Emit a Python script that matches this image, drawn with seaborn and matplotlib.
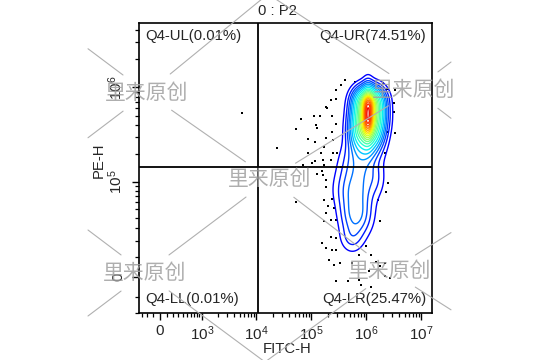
import numpy as np
import matplotlib
matplotlib.use('Agg')
import matplotlib.pyplot as plt
from matplotlib.lines import Line2D
import seaborn as sns

# axis scale: asinh "biex" display, units roughly in decades
cx, cy = 179.0, 10100.0
def fx(v):
    return np.arcsinh(np.asarray(v, float) / (2 * cx)) / np.log(10)
def fy(v):
    return np.arcsinh(np.asarray(v, float) / (2 * cy)) / np.log(10)

title = '0 : P2'
x_label, y_label = 'FITC-H', 'PE-H'
quad_labels = ['Q4-UL(0.01%)', 'Q4-UR(74.51%)', 'Q4-LL(0.01%)', 'Q4-LR(25.47%)']
gate_x, gate_y = 1.1e4, 1.45e5
x_major = [0, 1e3, 1e4, 1e5, 1e6, 1e7]
x_major_lab = ['0', '$10^3$', '$10^4$', '$10^5$', '$10^6$', '$10^7$']
y_major = [0, 1e5, 1e6]
y_major_lab = ['0', '$10^5$', '$10^6$']
x_minor = [-300, -200, -100, 100, 200, 300, 400, 500, 600, 700, 800, 900,
           2e3, 3e3, 4e3, 5e3, 6e3, 7e3, 8e3, 9e3,
           2e4, 3e4, 4e4, 5e4, 6e4, 7e4, 8e4, 9e4,
           2e5, 3e5, 4e5, 5e5, 6e5, 7e5, 8e5, 9e5,
           2e6, 3e6, 4e6, 5e6, 6e6, 7e6, 8e6, 9e6]
y_minor = [-2e4, -1e4, 1e4, 2e4, 3e4, 4e4, 5e4, 6e4, 7e4, 8e4, 9e4,
           2e5, 3e5, 4e5, 5e5, 6e5, 7e5, 8e5, 9e5, 2e6, 3e6, 4e6]
x_lim = (-0.38, 4.945)
y_lim = (-0.379, 2.674)

# population density components (display units): upper blob, peak ridge, neck, lower tail
pop_x = [3.727, 3.873, 3.691, 3.891, 3.655, 3.855, 3.782, 3.727,
         3.636, 3.545, 3.564, 3.491, 3.909]
pop_y = [1.863, 1.863, 1.705, 1.705, 1.526, 1.526, 1.705, 1.358,
         1.179, 0.916, 0.653, 0.411, 1.021]
pop_sx = [0.127, 0.127, 0.127, 0.127, 0.127, 0.127, 0.060, 0.164,
          0.200, 0.200, 0.164, 0.127, 0.109]
pop_sy = [0.084, 0.084, 0.116, 0.116, 0.105, 0.105, 0.150, 0.095,
          0.137, 0.137, 0.137, 0.095, 0.105]
pop_w = [0.60, 0.60, 0.85, 0.85, 0.60, 0.60, 1.10, 0.22,
         0.17, 0.18, 0.21, 0.07, 0.04]
levels_rel = [0.010, 0.025, 0.045, 0.070, 0.100, 0.140, 0.190, 0.250, 0.310, 0.370,
              0.430, 0.490, 0.550, 0.610, 0.670, 0.730, 0.790, 0.850, 0.910, 0.970]

# outlying events (display units)
dot_x = [1.484, 3.363, 3.553, 3.205, 3.300, 3.110, 3.205, 3.015, 3.034, 2.794,
         2.908, 2.572, 2.465, 2.844, 2.857, 3.123, 3.205, 3.123, 2.686, 2.813,
         3.015, 3.142, 2.984, 2.130, 2.686, 2.920, 3.142, 3.224, 3.110, 2.825,
         2.971, 2.604, 2.762, 2.984, 2.952, 2.857, 2.971, 3.015, 3.015, 2.477,
         2.984, 3.123, 3.047, 3.015, 3.110, 3.173, 3.205, 2.984, 2.952, 3.110,
         3.205, 3.015, 3.123, 3.205, 3.079, 3.173, 3.268, 3.838, 3.933, 4.091,
         3.996, 3.806, 3.616, 3.426, 3.205, 3.648, 3.838, 4.091, 4.186, 4.059,
         4.122, 4.280, 4.249, 4.249, 4.280, 4.154, 4.091, 4.154, 4.110, 3.964,
         3.996, 3.743, 3.616, 3.490, 3.300]
dot_y = [1.722, 2.072, 2.054, 1.967, 2.019, 1.862, 1.869, 1.792, 1.774, 1.694,
         1.694, 1.659, 1.554, 1.599, 1.564, 1.694, 1.610, 1.529, 1.449, 1.424,
         1.459, 1.442, 1.372, 1.361, 1.302, 1.309, 1.309, 1.302, 1.232, 1.225,
         1.232, 1.179, 1.197, 1.179, 1.120, 1.085, 1.074, 1.022, 0.952, 0.794,
         0.805, 0.819, 0.742, 0.672, 0.602, 0.724, 0.602, 0.584, 0.357, 0.420,
         0.409, 0.304, 0.287, 0.287, 0.182, 0.129, 0.147, 0.234, 0.154, 0.147,
         0.112, 0.059, -0.028, -0.039, -0.046, -0.081, -0.105, 0.007, -0.011, 2.037,
         1.984, 1.967, 1.827, 1.739, 1.512, 1.529, 1.302, 0.994, 0.899, 0.812,
         0.584, 0.322, 0.234, 0.147, 1.162]

wm_text = '里来原创'
wm_pos = [(147, 93), (414, 90), (270, 179), (145, 273), (390, 271)]

sns.set_style('ticks')
plt.rcParams['font.family'] = ['Liberation Sans', 'Noto Sans CJK SC']
plt.rcParams['mathtext.fontset'] = 'custom'
plt.rcParams['mathtext.rm'] = 'Liberation Sans'
plt.rcParams['mathtext.it'] = 'Liberation Sans:italic'

W, H = 540, 360
fig = plt.figure(figsize=(5.4, 3.6), dpi=100)
ax = fig.add_axes([139 / W, 47 / H, 293 / W, 290 / H])

# density contours
gx = np.linspace(x_lim[0], x_lim[1], 500)
gy = np.linspace(y_lim[0], y_lim[1], 500)
X, Y = np.meshgrid(gx, gy)
Z = np.zeros_like(X)
for mx, my, sx, sy, w in zip(pop_x, pop_y, pop_sx, pop_sy, pop_w):
    Z += w * np.exp(-0.5 * ((X - mx) / sx) ** 2 - 0.5 * ((Y - my) / sy) ** 2)
lev = [l * Z.max() for l in levels_rel]
cols = plt.cm.jet(np.linspace(0.11, 0.90, len(lev)))
ax.contour(X, Y, Z, levels=lev, colors=cols, linewidths=1.0, zorder=3)

sns.scatterplot(x=dot_x, y=dot_y, color='black', s=4, marker='s',
                linewidth=0, ax=ax, zorder=2)

ax.axvline(fx(gate_x), color='black', lw=1.3, zorder=4)
ax.axhline(fy(gate_y), color='black', lw=1.3, zorder=4)

ax.set_xlim(*x_lim)
ax.set_ylim(*y_lim)
ax.set_xticks(fx(x_major))
ax.set_xticklabels(x_major_lab)
ax.set_xticks(fx(x_minor), minor=True)
ax.set_yticks(fy(y_major))
ax.set_yticklabels(y_major_lab)
ax.set_yticks(fy(y_minor), minor=True)
ax.tick_params(which='major', length=5, width=1, labelsize=11, pad=3, color='black')
ax.tick_params(which='minor', length=3, width=0.9, color='black')
ax.tick_params(axis='y', labelrotation=90, pad=5)
for lab in ax.get_yticklabels():
    lab.set_va('center')
for sp in ax.spines.values():
    sp.set_linewidth(1.2)
    sp.set_color('black')

ax.set_xlabel(x_label, fontsize=10.7)
ax.set_ylabel(y_label, fontsize=10.7)
ax.xaxis.set_label_coords(0.505, -0.1)
ax.yaxis.set_label_coords(-0.113, 0.528)
fig.text(277 / W, 1 - 11 / H, title, ha='center', va='center', fontsize=10.7)

fs = 10.7
ax.text(0.023, 0.955, quad_labels[0], transform=ax.transAxes, ha='left', va='center', fontsize=fs)
ax.text(0.98, 0.955, quad_labels[1], transform=ax.transAxes, ha='right', va='center', fontsize=fs)
ax.text(0.023, 0.048, quad_labels[2], transform=ax.transAxes, ha='left', va='center', fontsize=fs)
ax.text(0.98, 0.048, quad_labels[3], transform=ax.transAxes, ha='right', va='center', fontsize=fs)

# watermark: text with diagonal lattice lines
nodes = {'A': (147, 93), 'B': (414, 90), 'C': (270, 179), 'D': (145, 273), 'E': (390, 271),
         'F': (268, -6), 'G': (265, 362), 'L1': (27, 3), 'L2': (27, 184), 'L3': (27, 362),
         'R1': (533, 0), 'R2': (533, 181), 'R3': (533, 362)}
edges = [('A', 'L1'), ('A', 'L2'), ('A', 'F'), ('A', 'C'), ('B', 'F'), ('B', 'C'),
         ('B', 'R1'), ('B', 'R2'), ('C', 'D'), ('C', 'E'), ('D', 'L2'), ('D', 'L3'),
         ('D', 'G'), ('E', 'G'), ('E', 'R2'), ('E', 'R3')]
gap = {k: 30 for k in 'ABCDE'}
xmin_wm, xmax_wm = 88, 451
for a, b in edges:
    p, q = np.array(nodes[a], float), np.array(nodes[b], float)
    d = q - p
    u = d / np.hypot(*d)
    p2 = p + u * gap.get(a, 0)
    q2 = q - u * gap.get(b, 0)
    t0, t1 = 0.0, 1.0
    dx = q2[0] - p2[0]
    if dx != 0:
        ta, tb = (xmin_wm - p2[0]) / dx, (xmax_wm - p2[0]) / dx
        t0, t1 = max(t0, min(ta, tb)), min(t1, max(ta, tb))
    if t1 <= t0:
        continue
    s, e = p2 + (q2 - p2) * t0, p2 + (q2 - p2) * t1
    fig.add_artist(Line2D([s[0] / W, e[0] / W], [1 - s[1] / H, 1 - e[1] / H],
                          transform=fig.transFigure, color='#b0b0b0', lw=0.8, zorder=10))
for px, py in wm_pos:
    fig.text(px / W, 1 - py / H, wm_text, ha='center', va='center', fontsize=15,
             family='Noto Sans CJK SC', color='#a0a0a0', alpha=0.85, zorder=11)

fig.savefig('out.png', dpi=100)
